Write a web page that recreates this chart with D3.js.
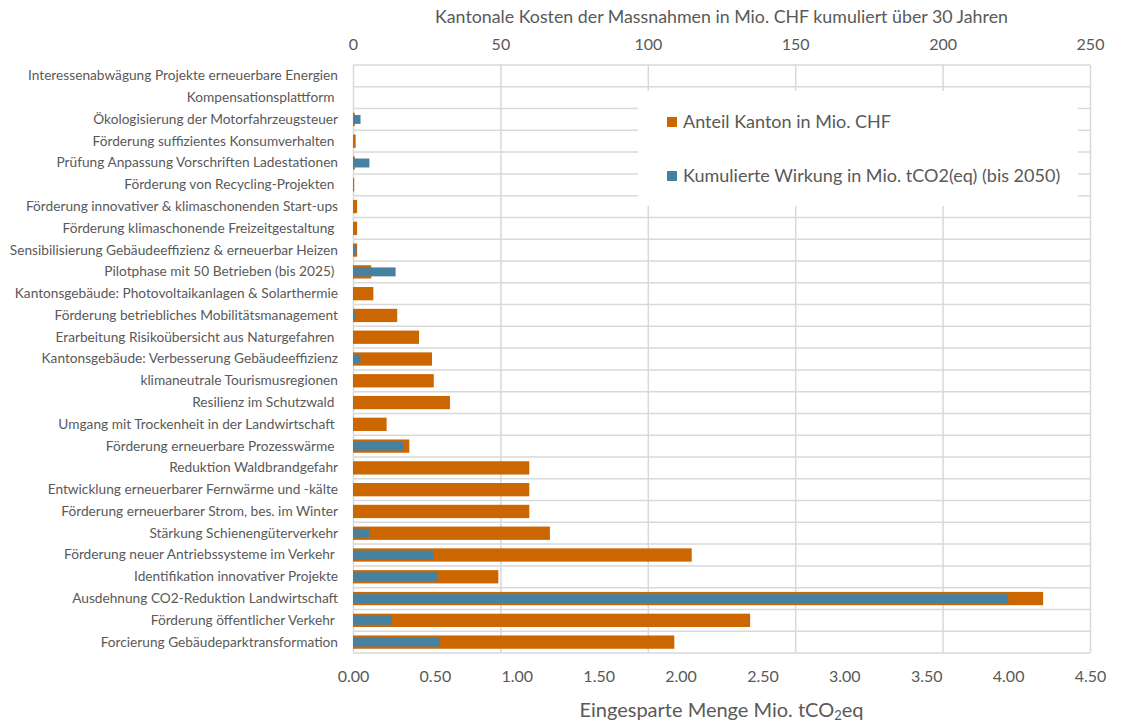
<!DOCTYPE html>
<html>
<head>
<meta charset="utf-8">
<script src="https://cdn.jsdelivr.net/npm/d3@7"></script>
<style>
  html, body { margin: 0; padding: 0; background: #fff; }
  svg { display: block; }
  svg text { font-family: Lato, "Open Sans", sans-serif; }
  .cat { white-space: pre; }
</style>
</head>
<body>
<svg id="chart" width="1124" height="722"></svg>
<script>
// Measures, top to bottom
const categories = [
  "Interessenabwägung Projekte erneuerbare Energien",
  "Kompensationsplattform ",
  "Ökologisierung der Motorfahrzeugsteuer",
  "Förderung suffizientes Konsumverhalten ",
  "Prüfung Anpassung Vorschriften Ladestationen",
  "Förderung von Recycling-Projekten ",
  "Förderung innovativer & klimaschonenden Start-ups",
  "Förderung klimaschonende Freizeitgestaltung ",
  "Sensibilisierung Gebäudeeffizienz & erneuerbar Heizen",
  "Pilotphase mit 50 Betrieben (bis 2025) ",
  "Kantonsgebäude: Photovoltaikanlagen & Solarthermie",
  "Förderung betriebliches Mobilitätsmanagement",
  "Erarbeitung Risikoübersicht aus Naturgefahren ",
  "Kantonsgebäude: Verbesserung Gebäudeeffizienz",
  "klimaneutrale Tourismusregionen",
  "Resilienz im Schutzwald ",
  "Umgang mit Trockenheit in der Landwirtschaft ",
  "Förderung erneuerbare Prozesswärme ",
  "Reduktion Waldbrandgefahr",
  "Entwicklung erneuerbarer Fernwärme und -kälte",
  "Förderung erneuerbarer Strom, bes. im Winter",
  "Stärkung Schienengüterverkehr",
  "Förderung neuer Antriebssysteme im Verkehr ",
  "Identifikation innovativer Projekte",
  "Ausdehnung CO2-Reduktion Landwirtschaft",
  "Förderung öffentlicher Verkehr ",
  "Forcierung Gebäudeparktransformation"
];

// Anteil Kanton in Mio. CHF (top axis)
const kostenCHF = [
  0, 0, 0.6, 0.9, 0.6, 0.4, 1.4, 1.4, 1.4, 6.2, 6.9, 15.0, 22.4, 26.8,
  27.4, 32.9, 11.4, 19.1, 59.8, 59.8, 59.8, 66.8, 114.9, 49.3, 234.1, 134.7, 109.0
];

// Kumulierte Wirkung in Mio. tCO2(eq) bis 2050 (bottom axis)
const wirkungCO2 = [
  0, 0, 0.046, 0, 0.10, 0, 0, 0, 0.02, 0.26, 0, 0.014, 0, 0.045,
  0, 0, 0, 0.307, 0, 0, 0, 0.098, 0.49, 0.515, 4.0, 0.236, 0.529
];

const topTicks = [0, 50, 100, 150, 200, 250];
const bottomTicks = [0, 0.5, 1, 1.5, 2, 2.5, 3, 3.5, 4, 4.5];

const legendLabels = [
  "Anteil Kanton in Mio. CHF",
  "Kumulierte Wirkung in Mio. tCO2(eq) (bis 2050)"
];

const colorCHF = "#cc6600";
const colorCO2 = "#4682a0";
const textColor = "#595959";
const gridColor = "#d9d9d9";
const fontFamily = 'Lato, "Open Sans", sans-serif';

const margin = { left: 353, right: 34, top: 65, bottom: 69 };
const W = 1124, H = 722;
const plotW = W - margin.left - margin.right;
const plotH = H - margin.top - margin.bottom;

const svg = d3.select("#chart");
const g = svg.append("g").attr("transform", `translate(${margin.left},${margin.top})`);

const xCHF = d3.scaleLinear().domain([0, 250]).range([0, plotW]);
const xCO2 = d3.scaleLinear().domain([0, 4.5]).range([0, plotW]);
const y = d3.scaleBand().domain(categories).range([0, plotH]);
const bw = y.bandwidth();
const hCHF = bw * 0.61;
const hCO2 = bw * 0.41;

// horizontal separators between categories
const seps = d3.range(categories.length + 1).map(i => i * bw);
g.append("g").selectAll("line").data(seps).join("line")
  .attr("x1", 0).attr("x2", plotW)
  .attr("y1", d => d).attr("y2", d => d)
  .attr("stroke", gridColor).attr("stroke-width", 1.5);

// vertical gridlines on the cost axis
g.append("g").call(
    d3.axisTop(xCHF).tickValues(topTicks).tickSize(-plotH).tickFormat(""))
  .call(s => s.select(".domain").remove())
  .selectAll("line").attr("stroke", gridColor).attr("stroke-width", 1.5);

// cost bars
g.append("g").selectAll("rect").data(categories).join("rect")
  .attr("x", 0)
  .attr("y", (d) => y(d) + (bw - hCHF) / 2)
  .attr("width", (d, i) => xCHF(kostenCHF[i]))
  .attr("height", hCHF)
  .attr("fill", colorCHF);

// CO2 bars
g.append("g").selectAll("rect").data(categories).join("rect")
  .attr("x", 0)
  .attr("y", (d) => y(d) + (bw - hCO2) / 2)
  .attr("width", (d, i) => xCO2(wirkungCO2[i]))
  .attr("height", hCO2)
  .attr("fill", colorCO2);

// category labels
g.append("g").call(d3.axisLeft(y).tickSize(0).tickPadding(15))
  .attr("font-family", fontFamily)
  .call(s => s.select(".domain").remove())
  .selectAll("text")
  .attr("class", "cat")
  .attr("fill", textColor)
  .style("font-size", "13.7px");

// top axis
g.append("g").call(d3.axisTop(xCHF).tickValues(topTicks).tickSize(0).tickPadding(15))
  .attr("font-family", fontFamily)
  .call(s => s.select(".domain").remove())
  .selectAll("text").attr("fill", textColor).style("font-size", "16px");

// bottom axis
g.append("g").attr("transform", `translate(0,${plotH})`)
  .call(d3.axisBottom(xCO2).tickValues(bottomTicks).tickSize(0).tickPadding(18).tickFormat(d3.format(".2f")))
  .attr("font-family", fontFamily)
  .call(s => s.select(".domain").remove())
  .selectAll("text").attr("fill", textColor).style("font-size", "16px");

// axis titles
svg.append("text")
  .attr("x", margin.left + plotW / 2).attr("y", 23)
  .attr("text-anchor", "middle").attr("fill", textColor)
  .style("font-size", "17.8px")
  .text("Kantonale Kosten der Massnahmen in Mio. CHF kumuliert über 30 Jahren");

const bt = svg.append("text")
  .attr("x", margin.left + plotW / 2).attr("y", 717)
  .attr("text-anchor", "middle").attr("fill", textColor)
  .style("font-size", "20px");
bt.append("tspan").text("Eingesparte Menge Mio. tCO");
bt.append("tspan").attr("baseline-shift", "-25%").style("font-size", "13px").text("2");
bt.append("tspan").text("eq");

// legend box
const lg = svg.append("g");
lg.append("rect")
  .attr("x", 638).attr("y", 91).attr("width", 440).attr("height", 115)
  .attr("fill", "#fff");
const legendColors = [colorCHF, colorCO2];
const legendY = [122, 176];
legendLabels.forEach((t, i) => {
  lg.append("rect")
    .attr("x", 667).attr("y", legendY[i] - 5).attr("width", 10).attr("height", 10)
    .attr("fill", legendColors[i]);
  lg.append("text")
    .attr("x", 683).attr("y", legendY[i]).attr("dy", "0.35em")
    .attr("fill", textColor).style("font-size", "18px")
    .text(t);
});
</script>
</body>
</html>
